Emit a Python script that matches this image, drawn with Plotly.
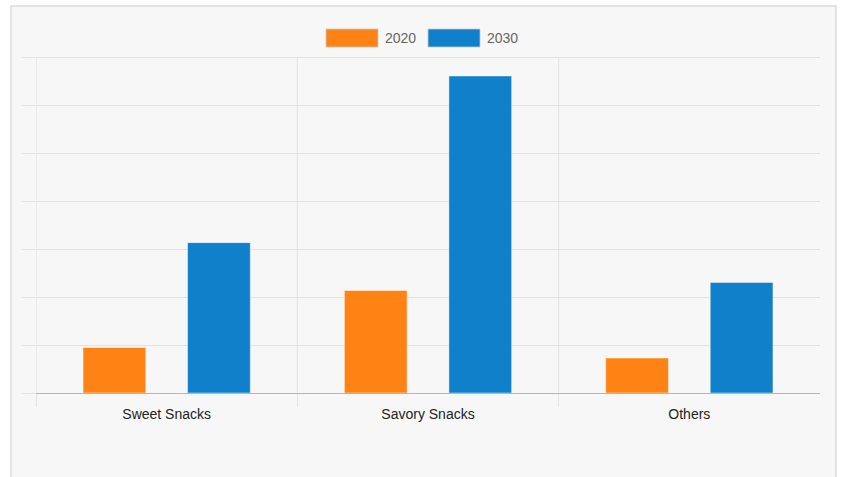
import plotly.graph_objects as go

categories = ["Sweet Snacks", "Savory Snacks", "Others"]
series_names = ["2020", "2030"]
values_2020 = [0.95, 2.14, 0.73]
values_2030 = [3.14, 6.62, 2.31]
series_values = [values_2020, values_2030]
colors = ["#fe8214", "#0f80c9"]
y_ticks = [0, 1, 2, 3, 4, 5, 6, 7]

W, H = 842, 477
L, R, T, B = 36, 22, 53, 84
PW, PH = W - L - R, H - T - B

def px(x):
    return (x - L) / PW

def py(y):
    return (H - B - y) / PH

fig = go.Figure()
for name, vals, col in zip(series_names, series_values, colors):
    fig.add_trace(go.Bar(
        x=categories, y=vals, name=name,
        marker=dict(color=col, line=dict(color="rgba(255,255,255,0.45)", width=1)),
        showlegend=False, hoverinfo="x+y+name",
    ))

# invisible helper trace for category boundary grid
fig.add_trace(go.Scatter(x=[-0.5, 2.5], y=[None, None], xaxis="x2", showlegend=False,
                         hoverinfo="skip", mode="markers"))

shapes = [
    dict(type="rect", xref="paper", yref="paper", x0=px(11), x1=px(836), y0=py(490), y1=py(6),
         line=dict(color="#e3e3e3", width=2), fillcolor="#f7f7f7", layer="below"),
]
annotations = []
# custom legend (Chart.js-style wide boxes)
leg_x = [326, 428]
for i, (name, col) in enumerate(zip(series_names, colors)):
    x0 = leg_x[i]
    shapes.append(dict(type="rect", xref="paper", yref="paper",
                       x0=px(x0), x1=px(x0 + 52), y0=py(47), y1=py(29),
                       fillcolor=col, line=dict(color="rgba(200,200,200,0.8)", width=1)))
    annotations.append(dict(text=name, xref="paper", yref="paper", x=px(x0 + 57), y=py(38),
                            xanchor="left", yanchor="middle", showarrow=False,
                            font=dict(family="Liberation Sans, Arial", size=14, color="#666666")))

ymax = 7.1
fig.update_layout(
    width=W, height=H,
    margin=dict(l=L, r=R, t=T, b=B),
    paper_bgcolor="white", plot_bgcolor="rgba(0,0,0,0)",
    barmode="group", bargap=0.2, bargroupgap=0.4,
    shapes=shapes, annotations=annotations,
    xaxis=dict(type="category", range=[-0.5, 2.5], showgrid=False, ticks="",
               showline=True, linecolor="#b5b5b5", linewidth=1,
               tickfont=dict(family="Liberation Sans, Arial", size=14, color="#222222"),
               ticklabelstandoff=8),
    xaxis2=dict(overlaying="x", range=[-0.5, 2.5], tickvals=[-0.5, 0.5, 1.5],
                showgrid=False,
                ticks="outside", ticklen=13, tickcolor="#e2e2e2", showticklabels=False,
                side="bottom", zeroline=False, showline=False),
    yaxis=dict(range=[0, ymax], tickvals=y_ticks, showgrid=True,
               gridcolor="#e2e2e2", gridwidth=1,
               ticks="outside", ticklen=13, tickcolor="#e2e2e2", showticklabels=False,
               zeroline=False, showline=False),
    font=dict(family="Liberation Sans, Arial"),
)

# vertical category-boundary lines spanning from baseline to top gridline
for xb in [-0.5, 0.5, 1.5]:
    fig.add_shape(type="line", xref="x2", yref="y", x0=xb, x1=xb, y0=0, y1=y_ticks[-1],
                  line=dict(color="#dcdcdc" if xb == -0.5 else "#e2e2e2", width=1), layer="below")

fig.write_html("out.html")
